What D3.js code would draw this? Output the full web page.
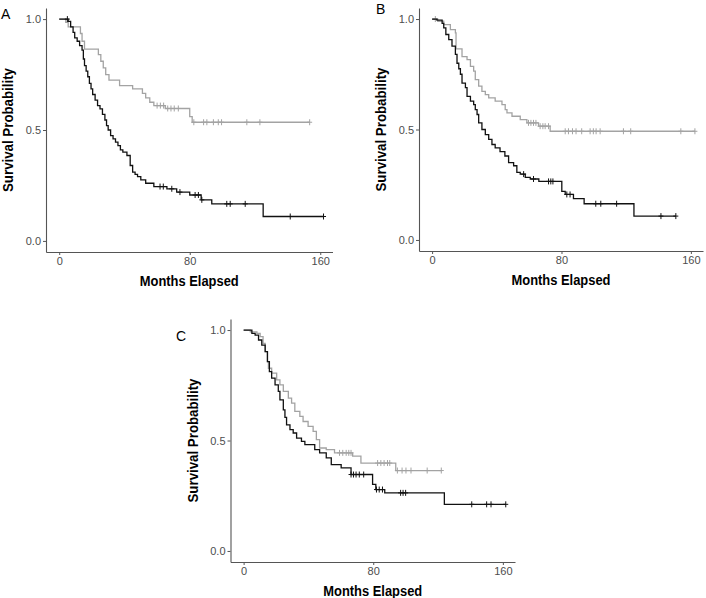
<!DOCTYPE html>
<html>
<head>
<meta charset="utf-8">
<script src="https://cdn.jsdelivr.net/npm/d3@7"></script>
<style>
  body { margin: 0; background: #fff; }
  svg { display: block; font-family: 'Liberation Sans', Arial, sans-serif; }
  .tick-label { font-size: 11px; fill: #4d4d4d; }
  .axis-title { font-size: 14px; font-weight: bold; fill: #000; }
  .panel-letter { font-family: 'Liberation Sans', Arial, sans-serif; font-size: 14px; fill: #000; }
</style>
</head>
<body>
<svg width="706" height="598"></svg>
<script>
// Kaplan-Meier steps: event times (months) and survival after each step
const aBlackTime = [0, 5.5, 7, 8.5, 9.5, 11, 12.5, 14, 14.8, 15.5, 16.5, 17.5, 18.5, 19.5, 20.5, 22, 23.5, 25, 26.5, 28, 29, 30, 31.5, 33, 34.5, 36, 37.5, 39, 41.5, 43.5, 45, 46.5, 48, 50, 53, 58, 66, 72, 80, 87, 93.5, 125];
const aBlackSurv = [1, 0.99, 0.965, 0.94, 0.915, 0.9, 0.88, 0.86, 0.82, 0.79, 0.765, 0.74, 0.71, 0.685, 0.66, 0.635, 0.61, 0.595, 0.57, 0.545, 0.52, 0.5, 0.475, 0.46, 0.445, 0.43, 0.41, 0.4, 0.385, 0.34, 0.31, 0.3, 0.29, 0.275, 0.26, 0.245, 0.235, 0.22, 0.207, 0.185, 0.167, 0.11];
const aBlackEnd = 162;
const aBlackCensor = [5, 61.8, 63.8, 69, 74, 83.3, 85.3, 87.4, 102.7, 104.8, 114, 141.6, 162];

const aGrayTime = [0, 4, 5.5, 13, 14, 15.5, 24, 25.5, 27, 28.5, 30.5, 37, 45, 51, 53, 55.5, 58, 65, 80, 81.5];
const aGraySurv = [1, 0.985, 0.965, 0.935, 0.9, 0.865, 0.84, 0.81, 0.78, 0.75, 0.725, 0.7, 0.685, 0.665, 0.645, 0.625, 0.61, 0.597, 0.56, 0.535];
const aGrayEnd = 153.5;
const aGrayCensor = [60, 62, 64, 66.5, 68.5, 70.5, 73, 82.5, 88.5, 90.5, 94.5, 97.5, 99.5, 115, 123, 153.5];

const bBlackTime = [0, 3, 6.2, 7.2, 8.5, 10.3, 12.3, 14.4, 15.4, 16.5, 17.5, 18.5, 20.6, 21.6, 23.7, 25.7, 26.7, 27.8, 28.8, 30.8, 32.9, 35, 37, 39, 42, 45, 47.3, 50.4, 52.4, 54.5, 57.6, 60.7, 66, 80.2, 82.3, 87.4, 94, 124.8];
const bBlackSurv = [1, 0.995, 0.98, 0.96, 0.93, 0.907, 0.877, 0.84, 0.8, 0.775, 0.75, 0.71, 0.69, 0.65, 0.628, 0.613, 0.59, 0.568, 0.53, 0.5, 0.477, 0.455, 0.432, 0.417, 0.4, 0.38, 0.35, 0.336, 0.306, 0.298, 0.283, 0.276, 0.265, 0.22, 0.206, 0.187, 0.164, 0.108];
const bBlackEnd = 150.7;
const bBlackCensor = [56.6, 62.7, 72, 73.4, 74.7, 83.3, 85.3, 101.2, 104.3, 114.1, 141.5, 150.7];

const bGrayTime = [0, 3.5, 7.2, 11.3, 14.4, 14.8, 18.5, 21.6, 23.7, 25.7, 26.7, 28.8, 30.8, 32.9, 35, 39, 43.2, 45.2, 46.3, 49.4, 54.5, 58.6, 65.8, 73];
const bGraySurv = [1, 0.99, 0.975, 0.952, 0.937, 0.865, 0.83, 0.816, 0.786, 0.764, 0.726, 0.696, 0.673, 0.658, 0.643, 0.628, 0.613, 0.59, 0.575, 0.56, 0.545, 0.53, 0.515, 0.492];
const bGrayEnd = 162.5;
const bGrayCensor = [2, 59.6, 61.1, 62.7, 64.2, 66.8, 68.5, 69.9, 72, 82.3, 84.3, 86.8, 89, 92.5, 97.7, 99.7, 101.4, 103.9, 118.3, 122.8, 153.8, 162.5];

const cBlackTime = [0, 5.1, 7.1, 9.2, 11.2, 13.3, 14.7, 15.9, 17.3, 19.4, 21.4, 22.4, 24.5, 25.5, 26.5, 28.6, 30.6, 32.7, 35.7, 37.8, 43.9, 46.9, 51, 54.1, 60.2, 66.3, 79.6, 81.6, 87.1, 123.9];
const cBlackSurv = [1, 0.985, 0.977, 0.955, 0.932, 0.902, 0.857, 0.812, 0.782, 0.752, 0.722, 0.684, 0.639, 0.605, 0.571, 0.549, 0.534, 0.511, 0.496, 0.481, 0.459, 0.444, 0.421, 0.391, 0.376, 0.346, 0.301, 0.278, 0.263, 0.211];
const cBlackEnd = 161.8;
const cBlackCensor = [66.3, 67.8, 69.4, 71.4, 74.1, 82, 83.7, 85.7, 96.9, 98.4, 100, 140.8, 150, 152.7, 161.8];

const cGrayTime = [0, 4.1, 8.2, 10.2, 12, 13.3, 14.7, 15.3, 17.3, 20.4, 22.4, 24.5, 27.6, 29.6, 31.6, 34.7, 36.7, 39.8, 42.9, 44.9, 46.9, 51, 56.1, 67.3, 72.4, 93.9];
const cGraySurv = [1, 0.992, 0.985, 0.97, 0.94, 0.902, 0.857, 0.827, 0.805, 0.774, 0.752, 0.722, 0.692, 0.669, 0.632, 0.609, 0.586, 0.564, 0.541, 0.504, 0.466, 0.459, 0.444, 0.429, 0.398, 0.364];
const cGrayEnd = 122;
const cGrayCensor = [59.2, 61.2, 63.3, 64.9, 66.3, 82.7, 84.7, 86.7, 88.8, 90.2, 94.9, 97.8, 100.2, 103.3, 113.3, 122];

const xTicks = [0, 80, 160];
const yTicks = [0, 0.5, 1];
const xTitle = 'Months Elapsed';
const yTitle = 'Survival Probability';

const svg = d3.select('svg');
const fmtY = d3.format('.1f');

const panels = [
  { letter: 'A', lx: 1, ly: 19, box: [46, 332.5, 8, 252],
    curves: [
      { time: aGrayTime, surv: aGraySurv, end: aGrayEnd, censor: aGrayCensor, color: '#a3a3a3' },
      { time: aBlackTime, surv: aBlackSurv, end: aBlackEnd, censor: aBlackCensor, color: '#111' }
    ] },
  { letter: 'B', lx: 376, ly: 14, box: [419, 703, 8, 251],
    curves: [
      { time: bGrayTime, surv: bGraySurv, end: bGrayEnd, censor: bGrayCensor, color: '#a3a3a3' },
      { time: bBlackTime, surv: bBlackSurv, end: bBlackEnd, censor: bBlackCensor, color: '#111' }
    ] },
  { letter: 'C', lx: 176, ly: 341, box: [230.5, 515, 319, 562],
    curves: [
      { time: cGrayTime, surv: cGraySurv, end: cGrayEnd, censor: cGrayCensor, color: '#a3a3a3' },
      { time: cBlackTime, surv: cBlackSurv, end: cBlackEnd, censor: cBlackCensor, color: '#111' }
    ] }
];

const drawPanel = (p) => {
  const [left, right, top, bottom] = p.box;
  const x = d3.scaleLinear().domain([-8.1, 167.5]).range([left, right]);
  const y = d3.scaleLinear().domain([-0.05, 1.05]).range([bottom, top]);
  const g = svg.append('g');

  // curves
  const line = d3.line()
    .x(d => x(d[0]))
    .y(d => y(d[1]))
    .curve(d3.curveStepAfter);

  p.curves.forEach((c) => {
    const pts = c.time.map((t, i) => [t, c.surv[i]]);
    pts.push([c.end, c.surv[c.surv.length - 1]]);
    g.append('path')
      .datum(pts)
      .attr('d', line)
      .attr('fill', 'none')
      .attr('stroke', c.color)
      .attr('stroke-width', 1.3);

    const survAt = t => c.surv[Math.max(0, d3.bisectRight(c.time, t) - 1)];
    const marks = g.append('g')
      .attr('stroke', c.color)
      .attr('stroke-width', 1);
    marks.selectAll('line.v')
      .data(c.censor)
      .enter().append('line')
      .attr('class', 'v')
      .attr('x1', d => x(d))
      .attr('x2', d => x(d))
      .attr('y1', d => y(survAt(d)) - 3)
      .attr('y2', d => y(survAt(d)) + 3);
    marks.selectAll('line.h')
      .data(c.censor)
      .enter().append('line')
      .attr('class', 'h')
      .attr('x1', d => x(d) - 2.5)
      .attr('x2', d => x(d) + 2.5)
      .attr('y1', d => y(survAt(d)))
      .attr('y2', d => y(survAt(d)));
  });

  // axes
  const xAxis = g.append('g')
    .attr('transform', `translate(0,${bottom})`)
    .call(d3.axisBottom(x).tickValues(xTicks).tickSize(3).tickPadding(2).tickSizeOuter(0));
  const yAxis = g.append('g')
    .attr('transform', `translate(${left},0)`)
    .call(d3.axisLeft(y).tickValues(yTicks).tickFormat(fmtY).tickSize(3).tickPadding(2).tickSizeOuter(0));
  [xAxis, yAxis].forEach((a) => {
    a.attr('font-family', null).attr('font-size', null);
    a.select('.domain').attr('stroke', '#555').attr('stroke-width', 1.1);
    a.selectAll('.tick line').attr('stroke', '#555');
    a.selectAll('.tick text')
      .attr('class', 'tick-label')
      .attr('fill', null);
  });

  // titles (the source figure's lettering is a bit narrow, so squeeze it to fit)
  g.append('text')
    .attr('class', 'axis-title')
    .attr('text-anchor', 'middle')
    .attr('x', (left + right) / 2)
    .attr('y', bottom + 34)
    .attr('textLength', 99)
    .attr('lengthAdjust', 'spacingAndGlyphs')
    .text(xTitle);
  g.append('text')
    .attr('class', 'axis-title')
    .attr('text-anchor', 'middle')
    .attr('transform', `translate(${left - 33},${(top + bottom) / 2}) rotate(-90)`)
    .attr('textLength', 124)
    .attr('lengthAdjust', 'spacingAndGlyphs')
    .text(yTitle);

  g.append('text')
    .attr('class', 'panel-letter')
    .attr('x', p.lx)
    .attr('y', p.ly)
    .text(p.letter);
};

panels.forEach(drawPanel);
</script>
</body>
</html>
